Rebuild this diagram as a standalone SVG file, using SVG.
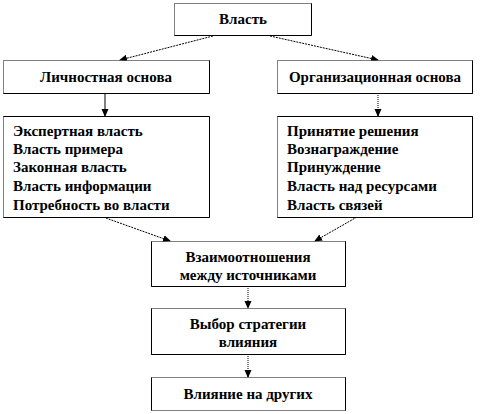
<svg xmlns="http://www.w3.org/2000/svg" width="486" height="414" viewBox="0 0 486 414">
<style>
.box{fill:#fff;stroke:#000;stroke-width:1;stroke-dasharray:1 1}
.edge{fill:none;stroke:#000;stroke-width:1}
.t{font-family:"Liberation Serif","Times New Roman",serif;font-weight:bold;font-size:15px;fill:#000}
.c{text-anchor:middle}
.ln{fill:none;stroke:#000;stroke-width:1}
.dash{stroke-dasharray:2 1}
.dot{stroke-dasharray:1 1}
</style>
<defs>
<marker id="ah" viewBox="0 0 8 8" refX="7" refY="4" markerWidth="8" markerHeight="8" markerUnits="userSpaceOnUse" orient="auto">
<path d="M0,0.5 L8,4 L0,7.5 z" fill="#000"/>
</marker>
</defs>
<rect width="486" height="414" fill="#fff"/>
<g id="connectors">
<path class="ln dash" d="M213,36 L120,60" marker-end="url(#ah)"/>
<path class="ln dash" d="M270,36 L378,60" marker-end="url(#ah)"/>
<path class="ln" d="M105,93 L105,116" marker-end="url(#ah)"/>
<path class="ln dot" d="M378,93 L378,116" marker-end="url(#ah)"/>
<path class="ln dash" d="M103,217 L170,241" marker-end="url(#ah)"/>
<path class="ln dash" d="M357,217 L315,241" marker-end="url(#ah)"/>
<path class="ln dot" d="M248,286 L248,308" marker-end="url(#ah)"/>
<path class="ln dot" d="M248,354 L248,377" marker-end="url(#ah)"/>
</g>
<g id="vlast">
<rect class="box" x="174.5" y="3.5" width="137" height="32"/>
<path class="edge" d="M311.5,3.5 V35.5 H174.5"/>
<text class="t c" x="243" y="24">Власть</text>
</g>
<g id="lichnostnaya">
<rect class="box" x="3.5" y="60.5" width="206" height="33"/>
<path class="edge" d="M209.5,60.5 V93.5 H3.5"/>
<text class="t c" x="106" y="82">Личностная основа</text>
</g>
<g id="organizacionnaya">
<rect class="box" x="277.5" y="60.5" width="195" height="33"/>
<path class="edge" d="M472.5,60.5 V93.5 H277.5"/>
<text class="t c" x="375" y="82">Организационная основа</text>
</g>
<g id="lichnostnaya-list">
<rect class="box" x="3.5" y="116.5" width="206" height="101"/>
<path class="edge" d="M3.5,116.5 H209.5 V217.5 H3.5"/>
<text class="t" x="13" y="136">Экспертная власть</text>
<text class="t" x="13" y="154">Власть примера</text>
<text class="t" x="13" y="172">Законная власть</text>
<text class="t" x="13" y="191">Власть информации</text>
<text class="t" x="13" y="210">Потребность во власти</text>
</g>
<g id="organizacionnaya-list">
<rect class="box" x="277.5" y="116.5" width="195" height="101"/>
<path class="edge" d="M277.5,116.5 H472.5 V217.5 H277.5"/>
<text class="t" x="287" y="136">Принятие решения</text>
<text class="t" x="287" y="154">Вознаграждение</text>
<text class="t" x="287" y="172">Принуждение</text>
<text class="t" x="287" y="191">Власть над ресурсами</text>
<text class="t" x="287" y="210">Власть связей</text>
</g>
<g id="vzaimootnosheniya">
<rect class="box" x="151.5" y="241.5" width="194" height="45"/>
<path class="edge" d="M345.5,241.5 V286.5 H151.5 V241.5"/>
<text class="t c" x="248" y="262">Взаимоотношения</text>
<text class="t c" x="248" y="280">между источниками</text>
</g>
<g id="vybor">
<rect class="box" x="151.5" y="308.5" width="194" height="46"/>
<path class="edge" d="M345.5,308.5 V354.5 H151.5 V308.5"/>
<text class="t c" x="248" y="329">Выбор стратегии</text>
<text class="t c" x="248" y="347">влияния</text>
</g>
<g id="vliyanie">
<rect class="box" x="151.5" y="377.5" width="194" height="33"/>
<path class="edge" d="M345.5,377.5 V410.5 M151.5,377.5 V410.5"/>
<text class="t c" x="248" y="399">Влияние на других</text>
</g>
</svg>
